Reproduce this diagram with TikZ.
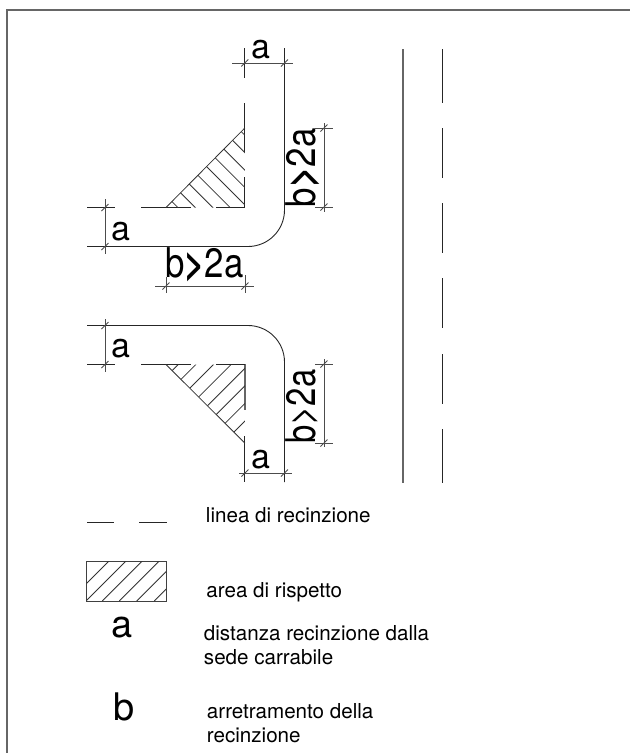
\documentclass[tikz,border=0pt]{standalone}
\usepackage{fontspec}
\setmainfont{TeX Gyre Heros}

\begin{document}
\begin{tikzpicture}[x=1pt,y=-1pt,line width=0.9pt,
    fence/.style={black!85},
    dimline/.style={black!70},
    hatchline/.style={line width=0.8pt,black!80},
    bigtext/.style={font=\fontsize{41}{41}\selectfont,inner sep=0pt},
    midtext/.style={font=\fontsize{34}{34}\selectfont,inner sep=0pt,anchor=base west},
    keytext/.style={font=\fontsize{38}{38}\selectfont,inner sep=0pt,anchor=base west},
    legend/.style={font=\fontsize{20.6}{20.6}\selectfont,inner sep=0pt,anchor=base west},
    tickmark/.pic={\draw[dimline] (-3.5,3.5)--(3.5,-3.5);}]

    \useasboundingbox (0,0) rectangle (630,753);

    % frame, only top and left
    \draw[black!60,line width=1.2pt] (7,753)--(7,10)--(630,10);

    % road
    \draw[black!60,line width=1.2pt] (403,49)--(403,483);
    \foreach \ya/\yb in {49/103,128/178,203/253,278/328,354/404,429/483}
        \draw[fence] (442.5,\ya)--(442.5,\yb);

    % upper corner
    \draw[fence] (87,246.5)--(248,246.5) arc[start angle=90,end angle=0,radius=36.5]--(284.5,48);
    \draw[fence] (244.8,48)--(244.8,78);
    \draw[fence] (244.8,103)--(244.8,152);
    \draw[fence] (244.8,177)--(244.8,207.5);
    \draw[fence] (87,207.5)--(115,207.5);
    \draw[fence] (141,207.5)--(191,207.5);
    \draw[fence] (216,207.5)--(244.8,207.5);
    \draw[hatchline] (166,207.5)--(244.8,128);
    \begin{scope}
    \clip (166,207.5)--(244.8,128)--(244.8,207.5)--cycle;
    \foreach \i in {0,...,8}
        \draw[hatchline] (171.7+8.7*\i,201.3-8.7*\i)--++(80,80);
    \end{scope}

    % lower corner
    \draw[fence] (87,325.5)--(248,325.5) arc[start angle=-90,end angle=0,radius=36.5]--(284.5,482);
    \draw[black!60,line width=1.2pt] (245,364)--(245,410);
    \draw[fence] (244.8,436)--(244.8,482);
    \draw[fence] (87,364.5)--(115,364.5);
    \draw[fence] (141,364.5)--(191,364.5);
    \draw[fence] (216,364.5)--(245,364.5);
    \draw[hatchline] (166,364.5)--(244.8,443);
    \begin{scope}
    \clip (166,364.5)--(244.8,443)--(244.8,364.5)--cycle;
    \foreach \i in {0,...,7}
        \draw[hatchline] (172.3+8.8*\i,370.5+8.8*\i)--++(80,-80);
    \end{scope}

    % dimensions, upper corner
    \draw[dimline] (232,63)--(293,63);
    \pic at (244.8,63) {tickmark};
    \pic at (284.5,63) {tickmark};
    \draw[dimline] (105,199)--(105,254);
    \pic at (105,207.5) {tickmark};
    \pic at (105,246.5) {tickmark};
    \draw[dimline] (155,286)--(254,286);
    \draw[dimline] (166,277)--(166,293);
    \draw[dimline] (245,275)--(245,293);
    \pic at (166,286) {tickmark};
    \pic at (245,286) {tickmark};
    \draw[dimline] (324,123)--(324,212);
    \draw[dimline] (315,128)--(333,128);
    \draw[dimline] (315,207)--(333,207);
    \pic at (324,128) {tickmark};
    \pic at (324,207) {tickmark};

    % dimensions, lower corner
    \draw[dimline] (105,319)--(105,372);
    \pic at (105,325.5) {tickmark};
    \pic at (105,364.5) {tickmark};
    \draw[dimline] (239,473)--(292,473);
    \pic at (245,473) {tickmark};
    \pic at (284.5,473) {tickmark};
    \draw[dimline] (324,359)--(324,447);
    \draw[dimline] (315,364)--(333,364);
    \draw[dimline] (315,443)--(333,443);
    \pic at (324,364) {tickmark};
    \pic at (324,443) {tickmark};

    % measures
    \node[midtext] (atop) at (251.3,58) {a};
    \node[midtext] (aleft) at (110.8,240) {a};
    \node[bigtext,anchor=base west] (bbottom) at (164.6,277) {\scalebox{0.85}[1]{b\textbf{>}2a}};
    \node[bigtext,anchor=base west,rotate=90] (bright) at (315,207.5) {\scalebox{0.85}[1]{b\textbf{>}2a}};
    \node[midtext] (aleftlow) at (110.8,357) {a};
    \node[midtext] (abottom) at (250.8,468) {a};
    \node[bigtext,anchor=base west,rotate=90] (brightlow) at (315,444) {\scalebox{0.8}[1]{b>2a}};

    % legend
    \draw[fence] (87,522.5)--(114,522.5);
    \draw[fence] (139,522.5)--(167,522.5);
    \node[legend] (keyfence) at (205.5,522) {linea di recinzione};

    \draw[black!75] (86.5,561.5) rectangle (166,601);
    \begin{scope}
    \clip (86.5,561.5) rectangle (166,601);
    \foreach \hx in {69,86,102.3,119.3,136.7,154.3}
        \draw[hatchline] (\hx,601)--++(50,-50);
    \end{scope}
    \node[legend] (keyarea) at (206,597) {area di rispetto};

    \node[keytext] (keya) at (111.5,637) {a};
    \node[legend] (keyaline) at (203.5,640) {distanza recinzione dalla};
    \node[legend] (keyalinetwo) at (203.5,664) {sede carrabile};

    \node[keytext] (keyb) at (113.5,720) {b};
    \node[legend] (keybline) at (206.5,718) {arretramento della};
    \node[legend] (keyblinetwo) at (206.5,742) {recinzione};
    %
\end{tikzpicture}
\end{document}
